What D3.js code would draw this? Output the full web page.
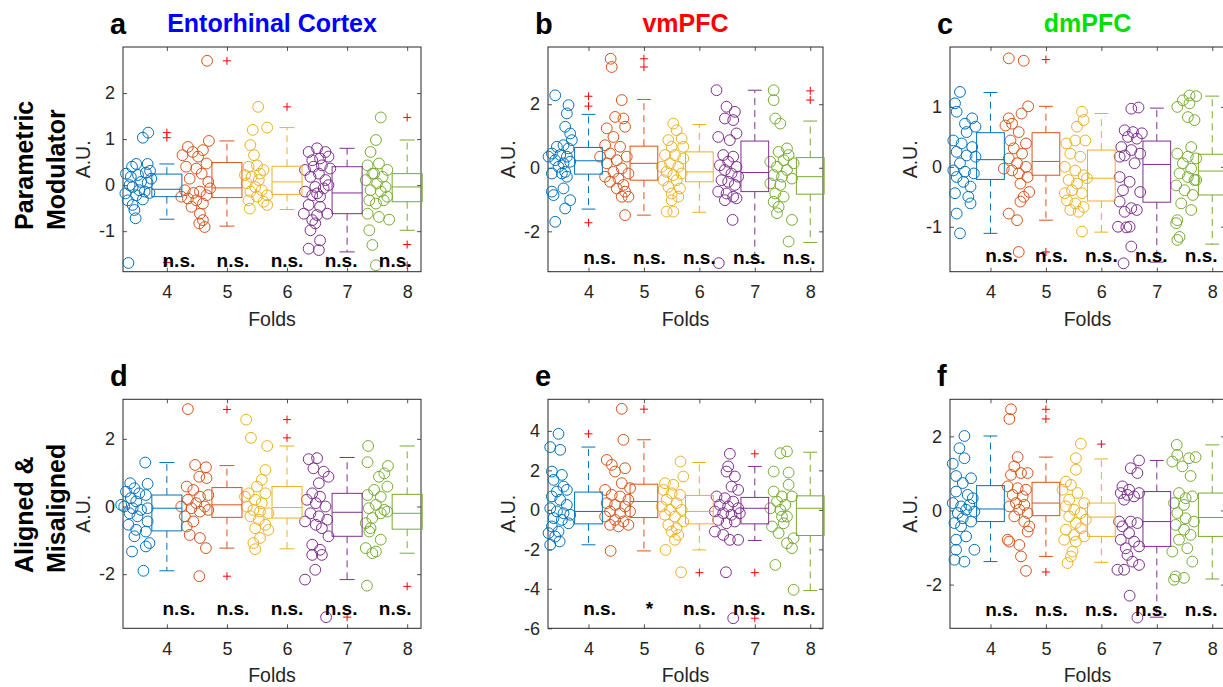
<!DOCTYPE html>
<html><head><meta charset="utf-8">
<script src="https://cdn.jsdelivr.net/npm/d3@7"></script>
<style>body{margin:0;background:#fff} text{font-family:"Liberation Sans",Arial,sans-serif}</style>
</head><body>
<script>
// ---------------- DATA ----------------
const folds = [4,5,6,7,8];
const groupColors = ["#0072BD","#D95319","#EDB120","#7E2F8E","#77AC30"];
const panelLetters = ["a","b","c","d","e","f"];
const panelTitles = ["Entorhinal Cortex","vmPFC","dmPFC","","",""];
const titleColors = ["#0000FF","#FF0000","#00E000","#000","#000","#000"];
const rowLabels = [["Parametric","Modulator"],["Aligned &","Misaligned"]];
const xLabel = "Folds";
const yLabel = "A.U.";
const xDomain = [3.27, 8.23];
const yDomains = [[-1.88,3.0],[-3.27,3.8],[-1.75,2.0],[-3.6,3.17],[-6,5.6],[-3.18,3.0]];
const yTicks = [[-1,0,1,2],[-2,0,2],[-1,0,1],[-2,0,2],[-6,-4,-2,0,2,4],[-2,0,2]];
const sigLabels = [
  ["n.s.","n.s.","n.s.","n.s.","n.s."],
  ["n.s.","n.s.","n.s.","n.s.","n.s."],
  ["n.s.","n.s.","n.s.","n.s.","n.s."],
  ["n.s.","n.s.","n.s.","n.s.","n.s."],
  ["n.s.","*","n.s.","n.s.","n.s."],
  ["n.s.","n.s.","n.s.","n.s.","n.s."]];
const sigX = [4.2,5.1,6.0,6.9,7.8];
const sigY = [-1.63,-2.80,-1.47,-3.0,-5.0,-2.66];

// scatter points per panel: [offset from fold, value]
const pointsA = [
 [[-0.64,-1.69],[-0.40,1.03],[-0.31,1.14],[-0.51,0.46],[-0.32,0.46],[-0.68,0.25],[-0.60,0.18],[-0.48,0.22],[-0.35,0.27],[-0.28,0.31],[-0.57,-0.04],[-0.46,-0.11],[-0.37,-0.14],[-0.29,-0.17],[-0.51,-0.22],[-0.65,-0.33],[-0.57,-0.43],[-0.54,-0.54],[-0.52,-0.72],[-0.43,0.07],[-0.62,0.00],[-0.69,-0.18],[-0.32,0.05],[-0.40,-0.31],[-0.58,0.40],[-0.26,0.14]],
 [[-0.33,2.70],[-0.30,0.96],[-0.65,0.83],[-0.57,0.72],[-0.40,0.76],[-0.74,0.65],[-0.48,0.62],[-0.34,0.47],[-0.68,0.40],[-0.51,0.36],[-0.42,0.25],[-0.62,0.14],[-0.31,0.07],[-0.70,-0.11],[-0.56,-0.17],[-0.45,-0.14],[-0.34,-0.22],[-0.65,-0.29],[-0.51,-0.33],[-0.40,-0.40],[-0.59,-0.47],[-0.45,-0.62],[-0.40,-0.76],[-0.37,-0.91],[-0.46,-0.83],[-0.76,-0.25],[-0.28,-0.07]],
 [[-0.48,1.70],[-0.33,1.25],[-0.57,1.20],[-0.61,0.87],[-0.55,0.65],[-0.64,0.40],[-0.50,0.43],[-0.39,0.33],[-0.59,0.18],[-0.47,0.11],[-0.67,0.04],[-0.53,-0.04],[-0.42,-0.11],[-0.61,-0.14],[-0.33,-0.22],[-0.50,-0.25],[-0.39,-0.36],[-0.33,-0.43],[-0.62,-0.51],[-0.64,-0.33],[-0.45,0.25],[-0.70,0.22]],
 [[-0.64,0.72],[-0.50,0.80],[-0.36,0.72],[-0.58,0.54],[-0.45,0.58],[-0.31,0.62],[-0.70,0.33],[-0.56,0.40],[-0.42,0.43],[-0.28,0.36],[-0.61,0.18],[-0.47,0.25],[-0.36,0.11],[-0.53,-0.04],[-0.39,-0.07],[-0.31,0.00],[-0.70,-0.14],[-0.58,-0.22],[-0.50,-0.18],[-0.45,-0.25],[-0.64,-0.43],[-0.45,-0.47],[-0.33,-0.62],[-0.72,-0.62],[-0.58,-0.76],[-0.50,-0.65],[-0.61,-0.98],[-0.53,-0.83],[-0.64,-1.38],[-0.47,-1.41],[-0.45,-1.20]],
 [[-0.44,1.47],[-0.52,0.98],[-0.61,0.72],[-0.66,0.43],[-0.47,0.47],[-0.33,0.33],[-0.58,0.25],[-0.41,0.18],[-0.69,0.11],[-0.50,0.04],[-0.36,-0.04],[-0.61,-0.11],[-0.44,-0.14],[-0.33,-0.25],[-0.63,-0.33],[-0.52,-0.40],[-0.39,-0.33],[-0.66,-0.62],[-0.47,-0.69],[-0.30,-0.75],[-0.63,-0.98],[-0.58,-1.30],[-0.52,-1.74],[-0.55,0.25]]
];
const pointsB = [
 [[-0.60,2.28],[-0.36,1.97],[-0.39,1.71],[-0.42,1.29],[-0.33,1.08],[-0.30,0.87],[-0.57,0.66],[-0.45,0.71],[-0.36,0.61],[-0.66,0.45],[-0.51,0.40],[-0.39,0.35],[-0.60,0.24],[-0.45,0.14],[-0.33,0.19],[-0.54,0.03],[-0.42,-0.13],[-0.66,-0.18],[-0.48,-0.18],[-0.39,-0.28],[-0.45,-0.65],[-0.66,-0.75],[-0.63,-0.86],[-0.33,-1.02],[-0.42,-1.28],[-0.60,-1.70],[-0.72,0.35]],
 [[-0.60,3.43],[-0.58,3.17],[-0.40,2.13],[-0.52,1.60],[-0.37,1.55],[-0.34,1.29],[-0.67,1.24],[-0.55,0.97],[-0.70,0.71],[-0.43,0.66],[-0.61,0.45],[-0.31,0.35],[-0.49,0.24],[-0.67,0.14],[-0.40,-0.02],[-0.55,-0.13],[-0.70,-0.28],[-0.28,-0.18],[-0.46,-0.34],[-0.61,-0.44],[-0.37,-0.54],[-0.49,-0.65],[-0.34,-0.75],[-0.28,-0.91],[-0.40,-0.91],[-0.34,-1.49],[-0.79,0.35]],
 [[-0.47,1.39],[-0.41,1.18],[-0.56,0.87],[-0.32,0.92],[-0.50,0.66],[-0.29,0.66],[-0.62,0.40],[-0.44,0.40],[-0.29,0.29],[-0.53,0.14],[-0.38,0.03],[-0.59,-0.13],[-0.32,-0.18],[-0.47,-0.23],[-0.65,-0.39],[-0.41,-0.39],[-0.56,-0.60],[-0.35,-0.65],[-0.50,-0.81],[-0.38,-0.91],[-0.50,-1.02],[-0.59,-1.38],[-0.47,-1.38],[-0.68,0.03]],
 [[-0.69,2.44],[-0.51,1.92],[-0.36,1.76],[-0.54,1.55],[-0.39,1.50],[-0.33,1.08],[-0.66,0.97],[-0.45,0.87],[-0.57,0.40],[-0.39,0.35],[-0.48,0.19],[-0.63,0.08],[-0.33,0.03],[-0.54,-0.07],[-0.42,-0.18],[-0.30,-0.28],[-0.60,-0.39],[-0.48,-0.44],[-0.36,-0.54],[-0.66,-0.75],[-0.51,-0.81],[-0.39,-0.91],[-0.54,-1.02],[-0.33,-0.96],[-0.40,-1.64],[-0.65,-3.00]],
 [[-0.66,2.44],[-0.66,2.13],[-0.63,1.55],[-0.54,1.39],[-0.42,0.61],[-0.57,0.50],[-0.39,0.40],[-0.72,0.19],[-0.48,0.24],[-0.30,0.14],[-0.60,0.03],[-0.42,-0.07],[-0.66,-0.23],[-0.51,-0.28],[-0.33,-0.34],[-0.72,-0.49],[-0.54,-0.54],[-0.63,-0.81],[-0.48,-0.91],[-0.66,-1.07],[-0.57,-1.23],[-0.33,-1.64],[-0.60,-1.43],[-0.39,-2.32]]
];
const pointsC = [
 [[-0.55,1.25],[-0.64,1.06],[-0.61,0.92],[-0.33,0.81],[-0.46,0.72],[-0.27,0.67],[-0.43,0.58],[-0.67,0.44],[-0.52,0.39],[-0.33,0.33],[-0.61,0.25],[-0.43,0.19],[-0.55,0.06],[-0.67,-0.06],[-0.46,-0.08],[-0.30,-0.11],[-0.61,-0.17],[-0.49,-0.25],[-0.36,-0.33],[-0.64,-0.44],[-0.40,-0.50],[-0.36,-0.61],[-0.61,-0.78],[-0.55,-1.11],[-0.27,0.17]],
 [[-0.67,1.81],[-0.40,1.77],[-0.32,1.01],[-0.44,0.89],[-0.67,0.81],[-0.61,0.72],[-0.73,0.69],[-0.49,0.58],[-0.64,0.44],[-0.36,0.39],[-0.58,0.31],[-0.43,0.22],[-0.67,0.14],[-0.52,0.06],[-0.36,0.00],[-0.61,-0.06],[-0.49,-0.11],[-0.33,-0.17],[-0.46,-0.28],[-0.30,-0.42],[-0.40,-0.50],[-0.46,-0.58],[-0.67,-0.78],[-0.52,-0.89],[-0.49,-1.42],[-0.76,-0.03]],
 [[-0.35,0.92],[-0.44,0.67],[-0.32,0.78],[-0.63,0.39],[-0.47,0.44],[-0.29,0.44],[-0.56,0.22],[-0.38,0.17],[-0.66,0.00],[-0.47,-0.06],[-0.32,-0.14],[-0.59,-0.22],[-0.44,-0.28],[-0.26,-0.19],[-0.53,-0.39],[-0.35,-0.44],[-0.62,-0.56],[-0.47,-0.61],[-0.32,-0.67],[-0.56,-0.72],[-0.41,-0.75],[-0.35,-1.08],[-0.66,-0.44]],
 [[-0.46,0.97],[-0.33,0.99],[-0.58,0.61],[-0.43,0.58],[-0.27,0.56],[-0.52,0.50],[-0.36,0.47],[-0.64,0.33],[-0.46,0.28],[-0.30,0.22],[-0.58,0.19],[-0.40,0.06],[-0.67,-0.17],[-0.49,-0.25],[-0.30,-0.42],[-0.61,-0.39],[-0.67,-0.58],[-0.46,-0.69],[-0.58,-0.75],[-0.36,-0.72],[-0.70,-1.00],[-0.55,-1.01],[-0.49,-1.00],[-0.46,-1.33],[-0.60,-1.61],[-0.67,0.17]],
 [[-0.41,1.19],[-0.29,1.18],[-0.53,1.11],[-0.63,1.00],[-0.41,1.06],[-0.44,0.83],[-0.32,0.78],[-0.38,0.33],[-0.63,0.22],[-0.44,0.17],[-0.29,0.14],[-0.53,0.06],[-0.38,-0.03],[-0.59,-0.11],[-0.44,-0.17],[-0.29,-0.22],[-0.65,-0.31],[-0.50,-0.39],[-0.35,-0.47],[-0.56,-0.61],[-0.38,-0.72],[-0.63,-0.89],[-0.65,-0.94],[-0.63,-1.22],[-0.59,-1.17],[-0.32,-0.22]]
];
const pointsD = [
 [[-0.36,1.30],[-0.61,0.69],[-0.32,0.67],[-0.54,0.54],[-0.68,0.44],[-0.46,0.39],[-0.35,0.34],[-0.60,0.25],[-0.51,0.15],[-0.71,0.00],[-0.57,-0.05],[-0.43,-0.10],[-0.32,-0.05],[-0.62,-0.20],[-0.49,-0.29],[-0.32,-0.44],[-0.64,-0.54],[-0.51,-0.69],[-0.35,-0.74],[-0.54,-0.88],[-0.29,-1.08],[-0.35,-1.18],[-0.58,-1.33],[-0.39,-1.90],[-0.76,0.05]],
 [[-0.65,2.88],[-0.53,1.23],[-0.35,1.16],[-0.46,0.88],[-0.34,0.84],[-0.67,0.59],[-0.56,0.49],[-0.45,0.29],[-0.31,0.34],[-0.65,0.20],[-0.51,0.10],[-0.37,0.00],[-0.59,-0.05],[-0.45,-0.15],[-0.31,-0.10],[-0.70,-0.29],[-0.56,-0.44],[-0.67,-0.59],[-0.62,-0.84],[-0.45,-0.93],[-0.35,-1.23],[-0.46,-2.06],[-0.76,0.00]],
 [[-0.68,2.57],[-0.60,2.03],[-0.33,1.79],[-0.36,1.08],[-0.42,0.79],[-0.50,0.59],[-0.64,0.39],[-0.36,0.39],[-0.53,0.20],[-0.42,0.10],[-0.67,0.00],[-0.56,-0.10],[-0.45,-0.15],[-0.31,-0.20],[-0.61,-0.29],[-0.47,-0.39],[-0.36,-0.54],[-0.53,-0.64],[-0.31,-0.69],[-0.45,-0.93],[-0.56,-1.08],[-0.53,-1.26],[-0.70,0.29]],
 [[-0.64,1.40],[-0.50,1.43],[-0.56,1.13],[-0.39,1.03],[-0.31,0.88],[-0.47,0.69],[-0.58,0.39],[-0.45,0.29],[-0.67,0.20],[-0.52,0.10],[-0.36,0.00],[-0.61,-0.20],[-0.47,-0.29],[-0.33,-0.39],[-0.70,-0.44],[-0.52,-0.54],[-0.42,-0.64],[-0.31,-0.88],[-0.58,-1.13],[-0.45,-1.28],[-0.58,-1.43],[-0.42,-1.43],[-0.53,-1.87],[-0.70,-2.16],[-0.35,-3.27]],
 [[-0.65,1.79],[-0.66,1.31],[-0.32,1.20],[-0.38,0.98],[-0.47,0.88],[-0.33,0.59],[-0.55,0.49],[-0.66,0.34],[-0.44,0.29],[-0.52,0.05],[-0.64,-0.05],[-0.33,-0.15],[-0.44,-0.20],[-0.58,-0.34],[-0.69,-0.49],[-0.61,-0.64],[-0.63,-0.74],[-0.44,-0.98],[-0.69,-1.23],[-0.52,-1.33],[-0.58,-1.38],[-0.67,-2.34],[-0.38,-0.10]]
];
const pointsE = [
 [[-0.54,3.85],[-0.69,3.18],[-0.51,3.04],[-0.66,1.94],[-0.48,1.77],[-0.63,1.52],[-0.45,1.18],[-0.57,0.93],[-0.39,1.01],[-0.66,0.68],[-0.51,0.51],[-0.39,0.25],[-0.69,0.08],[-0.57,-0.08],[-0.45,-0.17],[-0.33,-0.25],[-0.63,-0.42],[-0.48,-0.51],[-0.36,-0.68],[-0.66,-0.84],[-0.54,-1.10],[-0.72,-1.18],[-0.60,-1.35],[-0.52,-1.60],[-0.69,-1.77]],
 [[-0.40,5.12],[-0.37,3.55],[-0.67,2.53],[-0.58,2.28],[-0.52,1.94],[-0.34,2.11],[-0.70,1.01],[-0.40,1.35],[-0.25,1.10],[-0.58,0.76],[-0.43,0.68],[-0.28,0.51],[-0.67,0.34],[-0.52,0.25],[-0.34,0.17],[-0.61,-0.08],[-0.43,-0.17],[-0.25,-0.08],[-0.70,-0.34],[-0.52,-0.51],[-0.37,-0.59],[-0.28,-0.76],[-0.46,-0.84],[-0.61,-0.76],[-0.60,-2.08]],
 [[-0.34,2.45],[-0.29,1.69],[-0.62,1.35],[-0.47,1.27],[-0.65,1.01],[-0.50,0.84],[-0.35,0.76],[-0.59,0.51],[-0.41,0.34],[-0.68,0.17],[-0.53,0.00],[-0.32,0.00],[-0.62,-0.25],[-0.44,-0.34],[-0.29,-0.59],[-0.56,-0.76],[-0.41,-0.93],[-0.50,-1.10],[-0.38,-1.27],[-0.44,-1.52],[-0.61,-2.03],[-0.33,-3.16]],
 [[-0.45,2.84],[-0.48,2.20],[-0.51,1.94],[-0.36,1.69],[-0.42,1.18],[-0.30,1.01],[-0.69,0.68],[-0.54,0.59],[-0.39,0.42],[-0.63,0.25],[-0.48,0.17],[-0.30,0.08],[-0.72,-0.08],[-0.57,-0.17],[-0.42,-0.25],[-0.27,-0.17],[-0.66,-0.51],[-0.51,-0.68],[-0.36,-0.59],[-0.72,-1.10],[-0.57,-1.27],[-0.45,-1.52],[-0.30,-1.52],[-0.52,-3.16],[-0.39,-5.49]],
 [[-0.54,2.87],[-0.42,2.96],[-0.66,1.94],[-0.39,1.89],[-0.39,1.27],[-0.66,0.93],[-0.51,0.68],[-0.33,0.68],[-0.60,0.42],[-0.45,0.25],[-0.72,0.08],[-0.54,0.00],[-0.42,-0.34],[-0.69,-0.84],[-0.48,-0.68],[-0.57,-1.18],[-0.30,-1.44],[-0.42,-1.69],[-0.33,-1.94],[-0.63,-2.79],[-0.30,-4.05],[-0.51,-0.34]]
];
const pointsF = [
 [[-0.47,2.01],[-0.56,1.68],[-0.47,1.41],[-0.68,1.26],[-0.62,0.93],[-0.35,0.87],[-0.50,0.74],[-0.62,0.51],[-0.41,0.42],[-0.32,0.33],[-0.68,0.20],[-0.53,0.11],[-0.38,0.15],[-0.44,0.02],[-0.29,-0.03],[-0.59,-0.07],[-0.50,-0.21],[-0.35,-0.30],[-0.65,-0.34],[-0.53,-0.43],[-0.44,-0.70],[-0.62,-0.79],[-0.62,-1.06],[-0.29,-1.06],[-0.65,-1.33],[-0.47,-1.38]],
 [[-0.63,2.73],[-0.66,2.47],[-0.51,1.44],[-0.57,1.19],[-0.63,0.96],[-0.45,1.01],[-0.33,1.01],[-0.69,0.65],[-0.51,0.60],[-0.36,0.56],[-0.60,0.42],[-0.42,0.38],[-0.54,0.20],[-0.39,0.15],[-0.66,0.11],[-0.48,0.02],[-0.33,-0.07],[-0.57,-0.16],[-0.39,-0.30],[-0.30,-0.43],[-0.33,-0.57],[-0.69,-0.79],[-0.66,-0.84],[-0.48,-0.93],[-0.45,-1.24],[-0.36,-1.63]],
 [[-0.37,1.80],[-0.46,1.41],[-0.46,1.10],[-0.64,0.78],[-0.55,0.69],[-0.70,0.56],[-0.43,0.47],[-0.58,0.29],[-0.31,0.20],[-0.64,0.11],[-0.49,0.02],[-0.37,-0.07],[-0.58,-0.16],[-0.28,-0.25],[-0.46,-0.34],[-0.37,-0.48],[-0.64,-0.52],[-0.49,-0.66],[-0.31,-0.70],[-0.67,-0.79],[-0.46,-0.84],[-0.52,-1.11],[-0.55,-1.24],[-0.61,-1.42]],
 [[-0.32,1.35],[-0.47,1.14],[-0.35,1.01],[-0.62,0.65],[-0.50,0.56],[-0.65,0.47],[-0.53,0.42],[-0.41,0.38],[-0.59,0.29],[-0.32,0.47],[-0.68,-0.30],[-0.47,-0.30],[-0.35,-0.34],[-0.62,-0.43],[-0.50,-0.61],[-0.65,-0.79],[-0.41,-0.84],[-0.56,-1.02],[-0.32,-0.97],[-0.53,-1.20],[-0.44,-1.38],[-0.32,-1.47],[-0.71,-1.60],[-0.59,-1.60],[-0.49,-2.30],[-0.35,-2.89]],
 [[-0.64,1.77],[-0.63,1.50],[-0.72,1.32],[-0.42,1.41],[-0.30,1.44],[-0.54,1.19],[-0.39,0.93],[-0.60,0.47],[-0.48,0.33],[-0.69,0.20],[-0.51,0.15],[-0.36,0.38],[-0.63,-0.07],[-0.48,-0.21],[-0.33,-0.30],[-0.66,-0.39],[-0.51,-0.52],[-0.39,-0.66],[-0.60,-0.79],[-0.45,-1.02],[-0.72,-1.11],[-0.36,-1.38],[-0.66,-1.78],[-0.51,-1.82],[-0.69,-1.87]]
];

// box statistics per group: [lower whisker, Q1, median, Q3, upper whisker]
const boxA = [[-0.74,-0.25,-0.09,0.24,0.46],[-0.89,-0.27,-0.06,0.49,0.96],[-0.53,-0.20,0.07,0.41,1.25],[-1.45,-0.62,-0.17,0.40,0.80],[-0.98,-0.36,-0.04,0.25,0.98]];
const boxB = [[-1.30,-0.20,0.22,0.64,1.68],[-1.49,-0.39,0.14,0.68,2.15],[-1.40,-0.44,-0.13,0.50,1.36],[-2.98,-0.75,-0.15,0.84,2.44],[-2.35,-0.83,-0.28,0.32,1.47]];
const boxC = [[-1.11,-0.21,0.12,0.57,1.24],[-0.89,-0.14,0.09,0.57,1.01],[-1.09,-0.57,-0.19,0.28,0.89],[-1.59,-0.59,0.04,0.43,0.98],[-1.29,-0.47,-0.07,0.21,1.18]];
const boxD = [[-1.90,-0.72,-0.05,0.34,1.30],[-1.23,-0.32,0.05,0.56,1.21],[-1.25,-0.34,-0.03,0.59,1.79],[-2.16,-0.88,-0.17,0.39,1.45],[-1.38,-0.67,-0.20,0.36,1.79]];
const boxE = [[-1.77,-0.71,-0.08,0.90,3.18],[-2.08,-0.39,0.42,1.30,3.55],[-2.03,-0.71,-0.08,0.73,2.40],[-1.55,-0.71,0.08,0.63,2.20],[-4.09,-1.30,0.08,0.71,2.92]];
const boxF = [[-1.38,-0.30,0.04,0.67,2.01],[-1.24,-0.14,0.20,0.76,1.44],[-1.40,-0.70,-0.18,0.20,1.39],[-2.88,-0.97,-0.30,0.51,1.35],[-1.85,-0.70,-0.19,0.47,1.77]];

// outliers per group
const outA = [[1.14,1.03,-1.68],[2.70],[1.70],[],[1.47,-1.29,-1.74]];
const outB = [[2.25,1.94,-1.73],[3.43,3.17],[],[],[2.42,2.13]];
const outC = [[],[1.79,-1.42],[],[],[]];
const outD = [[],[2.87,-2.06],[2.57,2.03],[-3.27],[-2.36]];
const outE = [[3.85],[5.10],[-3.18],[2.84,-3.18,-5.49],[]];
const outF = [[],[2.73,2.47,-1.66],[1.79],[],[]];

const allPoints = [pointsA,pointsB,pointsC,pointsD,pointsE,pointsF];
const allBoxes = [boxA,boxB,boxC,boxD,boxE,boxF];
const allOut = [outA,outB,outC,outD,outE,outF];

// ---------------- LAYOUT ----------------
const W = 1223, H = 687;
const frames = [
  {x:123, y:47,    w:298, h:224.7},
  {x:548, y:47,    w:275, h:224.7},
  {x:950, y:47,    w:275, h:224.7},
  {x:123, y:399.3, w:298, h:229},
  {x:548, y:399.3, w:275, h:229},
  {x:950, y:399.3, w:275, h:229}
];
const axisColor = "#262626";
const boxHalf = 0.25, capHalf = 0.125;

const svg = d3.select("body").append("svg").attr("width", W).attr("height", H)
  .style("display","block");
svg.append("rect").attr("width",W).attr("height",H).attr("fill","#fff");

frames.forEach((f, i) => {
  const g = svg.append("g");
  const x = d3.scaleLinear().domain(xDomain).range([f.x, f.x + f.w]);
  const y = d3.scaleLinear().domain(yDomains[i]).range([f.y + f.h, f.y]);

  const styleAxis = sel => {
    sel.select(".domain").remove();
    sel.selectAll(".tick line").attr("stroke", axisColor).attr("stroke-width", 0.8);
    sel.selectAll(".tick text").attr("fill", axisColor).style("font-size","18px")
      .style("font-family","'Liberation Sans',Arial,sans-serif");
  };
  g.append("g").attr("transform", `translate(0,${f.y + f.h})`)
    .call(d3.axisBottom(x).tickValues(folds).tickSizeInner(-4).tickSizeOuter(0).tickPadding(13.5).tickFormat(d => String(d)))
    .call(styleAxis);
  g.append("g").attr("transform", `translate(0,${f.y})`)
    .call(d3.axisTop(x).tickValues(folds).tickSizeInner(-4).tickSizeOuter(0).tickFormat(""))
    .call(styleAxis);
  g.append("g").attr("transform", `translate(${f.x},0)`)
    .call(d3.axisLeft(y).tickValues(yTicks[i]).tickSizeInner(-4).tickSizeOuter(0).tickPadding(8).tickFormat(d => String(d)))
    .call(styleAxis);
  g.append("g").attr("transform", `translate(${f.x + f.w},0)`)
    .call(d3.axisRight(y).tickValues(yTicks[i]).tickSizeInner(-4).tickSizeOuter(0).tickFormat(""))
    .call(styleAxis);

  g.append("rect").attr("x", f.x).attr("y", f.y).attr("width", f.w).attr("height", f.h)
    .attr("fill", "none").attr("stroke", axisColor).attr("stroke-width", 1);

  // scatter
  allPoints[i].forEach((grp, j) => {
    g.append("g").selectAll("circle").data(grp).join("circle")
      .attr("cx", p => x(folds[j] + p[0])).attr("cy", p => y(p[1])).attr("r", 5.4)
      .attr("fill", "none").attr("stroke", groupColors[j]).attr("stroke-width", 1);
  });

  // boxes
  allBoxes[i].forEach((b, j) => {
    const c = groupColors[j], fx = folds[j];
    const bg = g.append("g").attr("stroke", c).attr("fill", "none").attr("stroke-width", 1);
    bg.append("line").attr("x1", x(fx)).attr("x2", x(fx)).attr("y1", y(b[3])).attr("y2", y(b[4])).attr("stroke-dasharray", "7,5");
    bg.append("line").attr("x1", x(fx)).attr("x2", x(fx)).attr("y1", y(b[1])).attr("y2", y(b[0])).attr("stroke-dasharray", "7,5");
    bg.append("line").attr("x1", x(fx - capHalf)).attr("x2", x(fx + capHalf)).attr("y1", y(b[4])).attr("y2", y(b[4]));
    bg.append("line").attr("x1", x(fx - capHalf)).attr("x2", x(fx + capHalf)).attr("y1", y(b[0])).attr("y2", y(b[0]));
    bg.append("rect").attr("x", x(fx - boxHalf)).attr("y", y(b[3]))
      .attr("width", x(fx + boxHalf) - x(fx - boxHalf)).attr("height", y(b[1]) - y(b[3]));
    bg.append("line").attr("x1", x(fx - boxHalf)).attr("x2", x(fx + boxHalf)).attr("y1", y(b[2])).attr("y2", y(b[2]));
    // outliers
    allOut[i][j].forEach(o => {
      const cx = x(fx), cy = y(o);
      g.append("path").attr("d", `M${cx-4},${cy}H${cx+4}M${cx},${cy-4}V${cy+4}`)
        .attr("stroke", "#FF0000").attr("stroke-width", 1).attr("fill", "none");
    });
  });

  // significance labels
  sigLabels[i].forEach((s, j) => {
    g.append("text").attr("x", x(sigX[j])).attr("y", y(sigY[i])).attr("dy", "0.36em")
      .attr("text-anchor", "middle").style("font-size", "19px").style("font-weight", "bold")
      .attr("fill", "#000").text(s);
  });

  // axis labels
  g.append("text").attr("x", f.x + f.w / 2).attr("y", f.y + f.h + 54)
    .attr("text-anchor", "middle").style("font-size", "19.5px").attr("fill", axisColor).text(xLabel);
  g.append("text").attr("transform", `translate(${f.x - 33},${f.y + f.h / 2}) rotate(-90)`)
    .attr("text-anchor", "middle").style("font-size", "19.5px").attr("fill", axisColor).text(yLabel);

  // panel letter & title
  g.append("text").attr("x", f.x - 13).attr("y", f.y - 13)
    .style("font-size", "29px").style("font-weight", "bold").attr("fill", "#000").text(panelLetters[i]);
  if (panelTitles[i]) {
    g.append("text").attr("x", f.x + f.w / 2).attr("y", f.y - 15).attr("text-anchor", "middle")
      .style("font-size", "25px").style("font-weight", "bold").attr("fill", titleColors[i]).text(panelTitles[i]);
  }
});

// row labels
const rowBottoms = [230, 573];
rowLabels.forEach((lines, r) => {
  lines.forEach((t, k) => {
    svg.append("text").attr("transform", `translate(${33 + k * 32},${rowBottoms[r]}) rotate(-90)`)
      .attr("text-anchor", "start").style("font-size", "25px").style("font-weight", "bold")
      .attr("fill", "#000").text(t);
  });
});
</script>
</body></html>
